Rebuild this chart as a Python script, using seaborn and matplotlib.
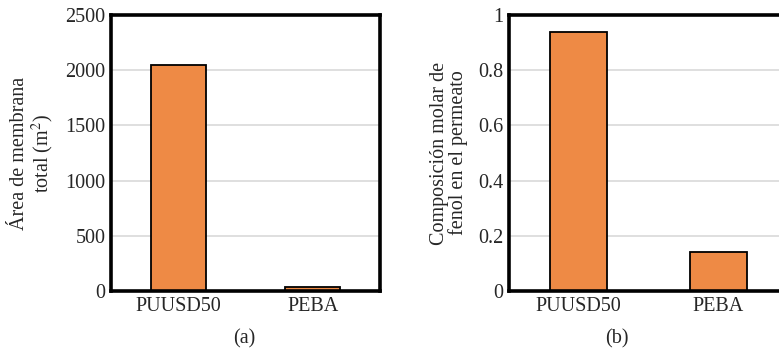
import matplotlib
matplotlib.use("Agg")
import matplotlib.pyplot as plt
import seaborn as sns
import pandas as pd

# Data
membranas = ["PUUSD50", "PEBA"]
area_total = [2050, 35]          # m^2
fraccion_fenol = [0.94, 0.14]    # composición molar en el permeato

sns.set_style("white")
plt.rcParams["font.family"] = ["Liberation Serif", "DejaVu Serif"]
plt.rcParams["mathtext.fontset"] = "stix"

W, H = 779, 349
fig = plt.figure(figsize=(W / 100, H / 100), dpi=100)

def px_axes(x0, y0, x1, y1):
    return fig.add_axes([x0 / W, 1 - y1 / H, (x1 - x0) / W, (y1 - y0) / H])

ax_a = px_axes(111, 15, 380, 291)
ax_b = px_axes(509, 15, 788, 291)

bar_color = "#EE8A45"
df_a = pd.DataFrame({"membrana": membranas, "valor": area_total})
df_b = pd.DataFrame({"membrana": membranas, "valor": fraccion_fenol})

sns.barplot(data=df_a, x="membrana", y="valor", ax=ax_a, color=bar_color,
            saturation=1, width=0.41, edgecolor="black", linewidth=1.3, zorder=3)
sns.barplot(data=df_b, x="membrana", y="valor", ax=ax_b, color=bar_color,
            saturation=1, width=0.41, edgecolor="black", linewidth=1.3, zorder=3)

for ax, ymax, ticks, ticklabels in [
    (ax_a, 2500, [0, 500, 1000, 1500, 2000, 2500], ["0", "500", "1000", "1500", "2000", "2500"]),
    (ax_b, 1.0, [0, 0.2, 0.4, 0.6, 0.8, 1.0], ["0", "0.2", "0.4", "0.6", "0.8", "1"]),
]:
    ax.set_xlim(-0.5, 1.5)
    ax.set_ylim(0, ymax)
    ax.set_yticks(ticks)
    ax.set_yticklabels(ticklabels)
    ax.yaxis.grid(True, color="#D9D9D9", linewidth=1.2, zorder=0)
    ax.set_axisbelow(True)
    ax.tick_params(axis="both", length=0, labelsize=14.5, pad=4)
    ax.set_xlabel("")
    for s in ax.spines.values():
        s.set_visible(True)
        s.set_color("black")
        s.set_linewidth(2.6)
        s.set_zorder(5)

ax_a.set_ylabel("Área de membrana\ntotal (m$^2$)", fontsize=14.5, linespacing=1.0, labelpad=7)
ax_b.set_ylabel("Composición molar de\nfenol en el permeato", fontsize=14.5, linespacing=1.0, labelpad=7)

fig.text(244 / W, 1 - 339 / H, "(a)", ha="center", va="center", fontsize=14.5)
fig.text(617 / W, 1 - 339 / H, "(b)", ha="center", va="center", fontsize=14.5)

fig.savefig("out.png", dpi=100)
